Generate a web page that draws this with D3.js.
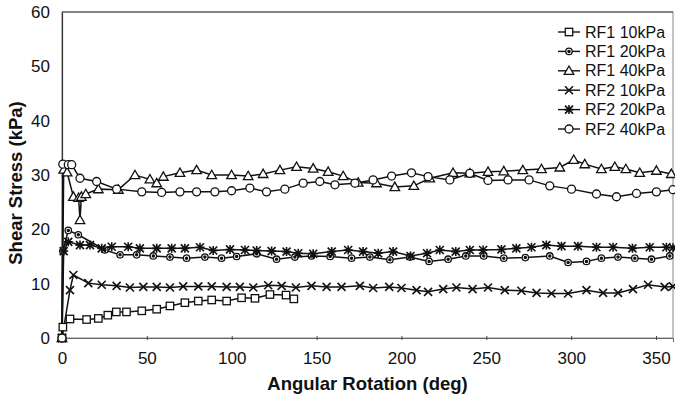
<!DOCTYPE html>
<html><head><meta charset="utf-8">
<script src="https://cdn.jsdelivr.net/npm/d3@7"></script>
<style>body{margin:0;background:#fff;} svg{display:block;}</style>
</head><body>
<svg id="c" width="675" height="398"></svg>
<script>
const xTicks = [0,50,100,150,200,250,300,350];
const yTicks = [0,10,20,30,40,50,60];
const seriesNames = ["RF1 10kPa","RF1 20kPa","RF1 40kPa","RF2 10kPa","RF2 20kPa","RF2 40kPa"];
const seriesSymbols = ["square","dotcircle","triangle","cross","asterisk","circle"];

const rf1_10 = [[0,0],[0.5,2],[4.7,3.5],[14.5,3.4],[21.4,3.6],[27,4.2],[32,4.8],[38,4.8],[47,5.0],[55.8,5.3],[63.6,5.9],[72.4,6.5],[80.3,6.8],[88.2,7.0],[97,6.8],[105.8,7.4],[113.7,7.3],[122.5,8.0],[132,7.9],[136.6,7.2]];
const rf1_20 = [[0,0],[0.5,16],[3.7,19.8],[9.6,19.0],[25.3,16.2],[34.2,15.3],[44,15.3],[53.8,15.1],[63.6,14.9],[73.4,14.7],[84.2,14.9],[94,14.7],[102.9,15.0],[114.7,15.5],[126.4,14.5],[137.2,14.9],[147,15.1],[158,15.0],[170.6,14.7],[181.4,14.9],[193.2,14.4],[205,14.9],[216.3,14.1],[227.5,14.5],[237.9,15.1],[248.5,15.1],[260.3,14.7],[273,14.8],[287.4,15.1],[298.2,13.9],[309,14.1],[317.8,14.7],[327.6,14.9],[337.5,14.7],[347.3,14.5],[358.1,15.1]];
const rf1_40 = [[0,0],[1,31],[3,30.5],[6.7,26],[9.8,25.8],[10.6,21.7],[11.4,26],[14,26.5],[21.4,27.4],[33.2,27.3],[43,30.0],[51.8,29.2],[55.8,28.5],[59.7,29.7],[69.5,30.4],[79.3,30.9],[88.2,30.0],[99.9,30.0],[109.7,29.8],[118.5,30.2],[128.4,30.9],[138.2,31.5],[148,31.2],[156.8,30.6],[165.7,29.8],[174.5,28.6],[185.3,28.5],[196.1,27.8],[207.3,28.0],[216.7,29.4],[230.4,30.4],[240.3,30.3],[251,30.6],[260.3,30.7],[271.5,30.9],[282.5,31.1],[293.3,31.4],[301.5,32.8],[308,32.0],[317.8,31.1],[325.7,31.5],[332.2,31.1],[340.4,30.4],[350.2,30.8],[359,30.2]];
const rf2_10 = [[0,0],[4.7,8.8],[6.7,11.6],[15.5,10.1],[23.4,9.8],[32.2,9.6],[40,9.3],[47.9,9.4],[55.8,9.4],[63.6,9.3],[71.4,9.5],[80.3,9.5],[88.2,9.5],[97,9.4],[104.8,9.4],[112.7,9.3],[121.5,9.7],[129.4,9.6],[137.8,9.3],[147,9.6],[155.9,9.4],[164.7,9.4],[175.5,9.6],[183.3,9.2],[192.8,9.4],[200,9.2],[208.9,8.8],[215.7,8.5],[224.6,9.0],[232.4,9.3],[241.9,9.0],[251,9.3],[260.9,8.8],[270.7,8.7],[279.6,8.3],[288.4,8.2],[298.2,8.2],[309,8.8],[318.8,8.3],[327.6,8.3],[336.4,9.0],[345.3,9.8],[355.1,9.4],[360,9.5]];
const rf2_20 = [[0,0],[1,16],[3.7,17.7],[10.6,17.1],[16.5,17.1],[23.4,16.5],[29.3,16.8],[39,16.8],[45.9,16.5],[55.8,16.5],[64.6,16.5],[72.4,16.5],[81.3,16.7],[89.1,16.1],[99,16.3],[107.8,16.2],[114.7,16.1],[123.5,16.0],[132.3,15.9],[139.2,15.6],[148,15.5],[158.9,15.9],[168.6,16.2],[177.4,15.9],[186.3,15.6],[195.1,15.9],[205.3,15.1],[215.1,15.6],[222.6,16.2],[232,15.9],[240.3,16.2],[248.1,16.2],[258.9,16.3],[267.7,16.5],[276.6,16.7],[285.4,17.1],[294.3,16.9],[304,16.9],[314.9,16.7],[324.7,16.7],[336.1,16.5],[346.3,16.7],[356.1,16.7],[360,16.6]];
const rf2_40 = [[0,0],[0.5,32],[3.7,31.9],[5.7,31.9],[10.6,29.4],[20.4,28.8],[32.2,27.4],[47,26.9],[58.7,26.8],[69.5,26.9],[79.3,26.9],[90.1,26.9],[99.9,27.1],[110.7,27.6],[120.5,26.9],[131.3,27.4],[142.1,28.5],[151.9,28.8],[160.8,28.2],[172.6,28.5],[183.3,29.1],[194.2,29.8],[205.9,30.4],[215.7,29.7],[228.5,29.1],[240.3,30.3],[251,29.0],[262.8,29.1],[275.2,29.1],[287.4,28.0],[300.2,27.4],[314.9,26.5],[326.7,26.0],[338.5,26.6],[350.2,26.9],[360,27.3]];

const seriesData = [rf1_10, rf1_20, rf1_40, rf2_10, rf2_20, rf2_40];

const svg = d3.select("#c");
const m = {l:62, t:12, r:673, b:338};
const x = d3.scaleLinear().domain([0,360]).range([m.l, m.r]);
const y = d3.scaleLinear().domain([0,60]).range([m.b, m.t]);
const ink = "#111";
const font = "Liberation Sans, Arial, sans-serif";

// frame
svg.append("rect").attr("x",m.l).attr("y",m.t).attr("width",m.r-m.l).attr("height",m.b-m.t)
  .attr("fill","none").attr("stroke","#888").attr("stroke-width",1);
svg.append("line").attr("x1",m.l).attr("x2",m.r).attr("y1",m.t).attr("y2",m.t).attr("stroke","#444");

// axes
const xAxis = d3.axisBottom(x).tickValues(xTicks).tickSize(4).tickPadding(10);
const gx = svg.append("g").attr("transform",`translate(0,${m.b})`).call(xAxis);
gx.select(".domain").attr("stroke","#666");
gx.selectAll(".tick line").attr("stroke","#444").attr("transform","translate(0,-2)");
gx.selectAll("text").attr("font-family",font).attr("font-size",17).attr("fill",ink);

const yAxis = d3.axisLeft(y).tickValues(yTicks).tickSize(0).tickPadding(12);
const gy = svg.append("g").attr("transform",`translate(${m.l},0)`).call(yAxis);
gy.select(".domain").attr("stroke","#333").attr("stroke-width",1.2);
gy.selectAll("text").attr("font-family",font).attr("font-size",17).attr("fill",ink);

// titles
svg.append("text").attr("x",(m.l+m.r)/2).attr("y",390).attr("text-anchor","middle")
  .attr("font-family",font).attr("font-weight","bold").attr("font-size",18.5).attr("fill",ink)
  .text("Angular Rotation (deg)");
svg.append("text").attr("transform","translate(22,183) rotate(-90)").attr("text-anchor","middle")
  .attr("font-family",font).attr("font-weight","bold").attr("font-size",18.5).attr("fill",ink)
  .text("Shear Stress (kPa)");

function drawMarker(g, type, cx, cy) {
  const s = g.append("g").attr("transform",`translate(${cx},${cy})`)
    .attr("stroke",ink).attr("stroke-width",1.3).attr("fill","#fff");
  if (type==="square") s.append("rect").attr("x",-3.7).attr("y",-3.7).attr("width",7.4).attr("height",7.4);
  else if (type==="circle") s.append("circle").attr("r",4);
  else if (type==="dotcircle") { s.append("circle").attr("r",3.2); s.append("circle").attr("r",1.1).attr("fill",ink); }
  else if (type==="triangle") s.append("path").attr("d","M0,-4.8L4.8,3.6L-4.8,3.6Z");
  else if (type==="cross") s.append("path").attr("d","M-4,-4L4,4M-4,4L4,-4").attr("stroke-width",1.6);
  else if (type==="asterisk") s.append("path").attr("d","M-4,-4L4,4M-4,4L4,-4M0,-4.5L0,4.5M-4.5,0L4.5,0").attr("stroke-width",1.6);
}

const line = d3.line().x(d=>x(d[0])).y(d=>y(d[1]));
seriesData.forEach((data,i)=>{
  svg.append("path").datum(data).attr("d",line).attr("fill","none")
    .attr("stroke",ink).attr("stroke-width",1.5);
});
seriesData.forEach((data,i)=>{
  const g = svg.append("g");
  data.forEach(d=>drawMarker(g, seriesSymbols[i], x(d[0]), y(d[1])));
});

// legend
const lg = svg.append("g");
seriesNames.forEach((n,i)=>{
  const ly = 32 + i*19.4;
  lg.append("line").attr("x1",558).attr("x2",580).attr("y1",ly).attr("y2",ly).attr("stroke",ink).attr("stroke-width",1.4);
  drawMarker(lg, seriesSymbols[i], 569, ly);
  lg.append("text").attr("x",585).attr("y",ly+5.5).attr("font-family",font).attr("font-size",16)
    .attr("fill",ink).text(n);
});
</script>
</body></html>
